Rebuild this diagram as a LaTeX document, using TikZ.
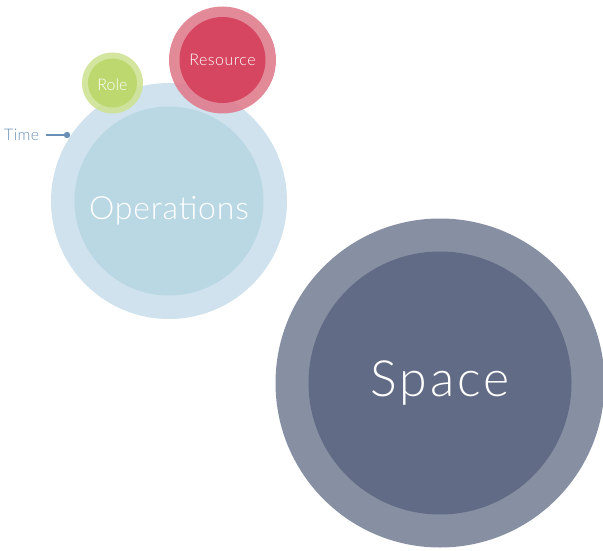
\documentclass[tikz,border=0pt]{standalone}
\usepackage{fontspec}
\setmainfont{Lato Light}
\definecolor{opsOuter}{HTML}{CFE2ED}
\definecolor{opsInner}{HTML}{B9D8E4}
\definecolor{spOuter}{HTML}{8790A3}
\definecolor{spInner}{HTML}{616B85}
\definecolor{resOuter}{HTML}{E07D8E}
\definecolor{resInner}{HTML}{D5405B}
\definecolor{roleOuter}{HTML}{CEE295}
\definecolor{roleInner}{HTML}{BBD86B}
\definecolor{timeCol}{HTML}{6A90B8}
\begin{document}
\begin{tikzpicture}[x=1pt,y=-1pt,
  ring/.style={circle,inner sep=0pt,draw=none},
  see/.style={fill opacity=0.9},
  lbl/.style={text=white,inner sep=0pt}]
\useasboundingbox (0,0) rectangle (603,551);
% Operations
\node[ring,fill=opsOuter,minimum size=236pt] (opsO) at (169,201) {};
\node[ring,fill=opsInner,minimum size=189pt] (ops) at (169,201) {};
\node[lbl,font=\fontsize{32}{36}\selectfont\addfontfeature{LetterSpace=2.5}] (opsT) at ([yshift=-9.5pt]ops.center) {Operations};
% Space
\node[ring,fill=spOuter,minimum size=329pt] (spO) at (440,383) {};
\node[ring,fill=spInner,minimum size=263pt] (sp) at (440,383) {};
\node[lbl,font=\fontsize{50}{54}\selectfont\addfontfeature{LetterSpace=6}] (spT) at ([yshift=0pt]sp.center) {Space};
% Role
\node[ring,see,fill=roleOuter,minimum size=61pt] (roleO) at (112.5,83) {};
\node[ring,see,fill=roleInner,minimum size=49pt] (role) at (112.5,83) {};
\node[lbl,font=\fontsize{16}{18}\selectfont] (roleT) at ([yshift=-1.5pt]role.center) {Role};
% Resource
\node[ring,see,fill=resOuter,minimum size=107pt] (resO) at (222.5,60) {};
\node[ring,see,fill=resInner,minimum size=86pt] (res) at (222.5,60) {};
\node[lbl,font=\fontsize{16}{18}\selectfont\addfontfeature{LetterSpace=3}] (resT) at (res.center) {Resource};
% Time
\node[text=timeCol,font=\fontsize{16}{18}\selectfont\addfontfeature{LetterSpace=2},anchor=west,inner sep=0pt] (time) at (4,134.5) {Time};
\coordinate (tdot) at (67,135);
\draw[timeCol,line width=1.2pt] (46,135) -- (tdot);
\fill[timeCol] (tdot) circle (3.2pt);
\end{tikzpicture}
\end{document}
